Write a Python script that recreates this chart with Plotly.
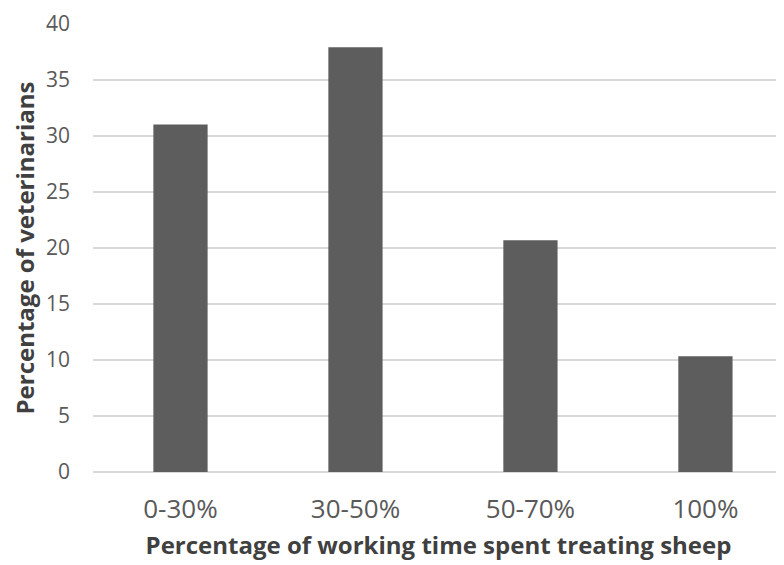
import plotly.graph_objects as go

categories = ["0-30%", "30-50%", "50-70%", "100%"]
values = [31.03, 37.93, 20.69, 10.34]
y_ticks = [0, 5, 10, 15, 20, 25, 30, 35, 40]

FONT = "Open Sans"
GRAY = "#595959"

fig = go.Figure(
    go.Bar(
        x=categories,
        y=values,
        width=0.31,
        marker=dict(color="#5d5d5d", line=dict(width=0)),
    )
)

fig.update_layout(
    width=784,
    height=565,
    margin=dict(l=85, r=8, t=16, b=101),
    paper_bgcolor="white",
    plot_bgcolor="white",
    showlegend=False,
    font=dict(family=FONT, color=GRAY),
)

fig.update_xaxes(
    type="category",
    range=[-0.5, 3.449],
    automargin=False,
    showgrid=False,
    showline=False,
    zeroline=False,
    ticks="",
    tickfont=dict(family=FONT, size=26, color=GRAY),
    ticklabelstandoff=19,
    title=dict(
        text="Percentage of working time spent treating sheep",
        font=dict(family=FONT, size=24, color="#404040", weight="bold"),
        standoff=12,
    ),
)

fig.update_yaxes(
    range=[0, 40],
    automargin=False,
    tickvals=y_ticks,
    showgrid=True,
    gridcolor="#d9d9d9",
    gridwidth=2,
    zeroline=True,
    zerolinecolor="#d9d9d9",
    zerolinewidth=2,
    showline=False,
    ticks="",
    tickfont=dict(family=FONT, size=21, color=GRAY),
    ticklabelstandoff=22,
    title=dict(
        text="Percentage of veterinarians",
        font=dict(family=FONT, size=24, color="#404040", weight="bold"),
        standoff=13,
    ),
)

fig.write_html("out.html")
